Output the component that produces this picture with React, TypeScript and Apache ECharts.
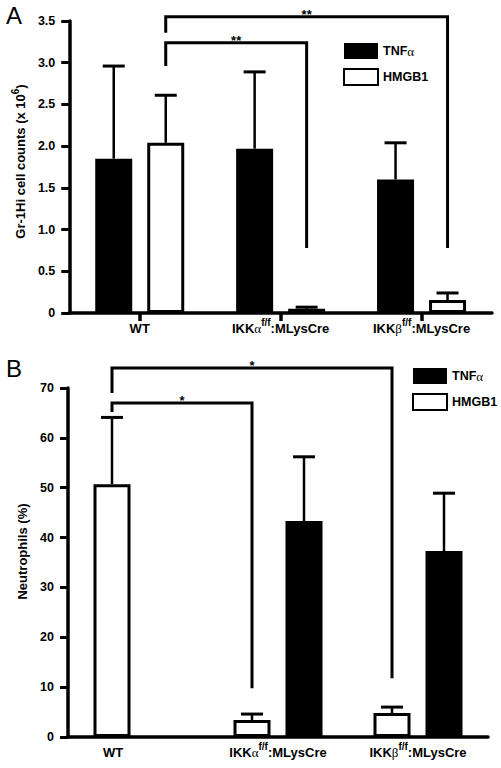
import React, { useEffect, useRef } from 'react';
import * as echarts from 'echarts';

// ---------- data ----------
const categories = ['WT', 'IKKα', 'IKKβ'];
const genotypeSuffix = ':MLysCre';
const superscriptText = 'f/f';
const seriesNames = ['TNFα', 'HMGB1'];

// Panel A: Gr-1Hi cell counts (x 10^6)
const aTnf = [1.85, 1.97, 1.6];
const aTnfErr = [1.11, 0.92, 0.44];
const aHmgb = [2.04, 0.05, 0.155];
const aHmgbErr = [0.57, 0.02, 0.085];
const aTicks = { min: 0, max: 3.5, interval: 0.5 };
// [startCat, startFoot, endCat, endFoot, top]
const aBrackets = [
  [0, 2.96, 1, 0.78, 3.24],
  [0, 3.36, 2, 0.78, 3.55],
];
const aBracketLabels = ['**', '**'];

// Panel B: Neutrophils (%)
const bHmgb = [50.7, 3.4, 4.8];
const bHmgbErr = [13.4, 1.2, 1.2];
const bTnf: (number | null)[] = [null, 43.3, 37.3];
const bTnfErr: (number | null)[] = [null, 12.9, 11.6];
const bTicks = { min: 0, max: 70, interval: 10 };
const bBrackets = [
  [0, 65.2, 1, 9.8, 67.0],
  [0, 69.0, 2, 11.8, 74.0],
];
const bBracketLabels = ['*', '*'];

// ---------- styles ----------
const FONT = '"Liberation Sans", Arial, Helvetica, sans-serif';
const SERIF = '"Liberation Serif", "Times New Roman", serif';
const BAR_W = 37;
const GAP = 15;
const CAP = 22;
const AXIS_W = 3.5;

const slotOffset = (slot: number) => (slot - 0.5) * (BAR_W + GAP);

function errorSeries(values: (number | null)[], errs: (number | null)[], slot: number, axis: number) {
  const data: number[][] = [];
  values.forEach((v, i) => {
    if (v != null && errs[i] != null) data.push([i, v, errs[i] as number]);
  });
  return {
    type: 'custom',
    xAxisIndex: axis,
    yAxisIndex: axis,
    clip: false,
    silent: true,
    z: 5,
    encode: { x: 0, y: 1 },
    data,
    renderItem: (params: any, api: any) => {
      const i = api.value(0);
      const v = api.value(1);
      const e = api.value(2);
      const base = api.coord([i, v]);
      const top = api.coord([i, v + e]);
      const x = base[0] + slotOffset(slot);
      return {
        type: 'group',
        children: [
          { type: 'line', shape: { x1: x, y1: base[1], x2: x, y2: top[1] }, style: { stroke: '#000', lineWidth: 2.5 } },
          { type: 'line', shape: { x1: x - CAP / 2, y1: top[1], x2: x + CAP / 2, y2: top[1] }, style: { stroke: '#000', lineWidth: 3 } },
        ],
      };
    },
  };
}

function bracketSeries(brackets: number[][], labels: string[], slot: number, axis: number) {
  return {
    type: 'custom',
    xAxisIndex: axis,
    yAxisIndex: axis,
    clip: false,
    silent: true,
    z: 6,
    encode: { x: 0, y: 1 },
    data: brackets,
    renderItem: (params: any, api: any) => {
      const c1 = api.value(0), f1 = api.value(1), c2 = api.value(2), f2 = api.value(3), t = api.value(4);
      const p1 = api.coord([c1, f1]);
      const p2 = api.coord([c2, f2]);
      const pt = api.coord([c1, t]);
      const x1 = p1[0] + slotOffset(slot);
      const x2 = p2[0] + slotOffset(slot);
      const yt = pt[1];
      return {
        type: 'group',
        children: [
          {
            type: 'polyline',
            shape: { points: [[x1, p1[1]], [x1, yt], [x2, yt], [x2, p2[1]]] },
            style: { stroke: '#000', lineWidth: 3, fill: null },
          },
          {
            type: 'text',
            x: (x1 + x2) / 2,
            y: yt - 2.5,
            style: {
              text: labels[params.dataIndex],
              fontFamily: FONT,
              fontWeight: 'bold',
              fontSize: 13,
              fill: '#000',
              align: 'center',
              verticalAlign: 'middle',
            },
          },
        ],
      };
    },
  };
}

const catRich = {
  m: { fontFamily: FONT, fontWeight: 'bold', fontSize: 13, color: '#000', lineHeight: 14, padding: [8, 0, 0, 0] },
  w: { fontFamily: FONT, fontWeight: 'bold', fontSize: 13, color: '#000', lineHeight: 14, padding: [8, 50, 0, 0] },
  g: { fontFamily: SERIF, fontWeight: 'normal', fontSize: 13, color: '#000', lineHeight: 14, padding: [8, 0, 0, 0] },
  s: { fontFamily: FONT, fontWeight: 'bold', fontSize: 10, color: '#000', lineHeight: 10, verticalAlign: 'top' },
};

const catFormatter = (shiftWT: boolean) => (v: string) => {
  if (v === 'WT') return shiftWT ? '{w|WT}' : '{m|WT}';
  return `{m|${v.slice(0, 3)}}{g|${v.slice(3)}}{s|${superscriptText}}{m|${genotypeSuffix}}`;
};

function xAxisDef(gridIndex: number, showTick: boolean, shiftWT: boolean) {
  return {
    type: 'category',
    gridIndex,
    data: categories,
    axisLine: { lineStyle: { color: '#000', width: AXIS_W } },
    axisTick: { show: showTick, alignWithLabel: true, length: 8, lineStyle: { color: '#000', width: 3.5 } },
    axisLabel: { interval: 0, margin: 4, formatter: catFormatter(shiftWT), rich: catRich },
    splitLine: { show: false },
  };
}

function yAxisDef(gridIndex: number, ticks: { min: number; max: number; interval: number }, name: string, rich: any, pad: number, decimals: number) {
  return {
    type: 'value',
    gridIndex,
    min: ticks.min,
    max: ticks.max,
    interval: ticks.interval,
    name,
    nameLocation: 'middle',
    nameRotate: 90,
    nameGap: 37,
    nameTextStyle: { padding: [0, 0, 0, pad], rich, fontFamily: FONT, fontWeight: 'bold', fontSize: 13, color: '#000' },
    axisLine: { show: true, lineStyle: { color: '#000', width: AXIS_W } },
    axisTick: { show: true, length: 8, lineStyle: { color: '#000', width: 3 } },
    axisLabel: {
      margin: 14,
      fontFamily: FONT,
      fontWeight: 'bold',
      fontSize: 12.5,
      color: '#000',
      formatter: (v: number) => (v === 0 ? '0' : v.toFixed(decimals)),
    },
    splitLine: { show: false },
  };
}

const nameRichA = {
  a: { fontFamily: FONT, fontWeight: 'bold', fontSize: 13, color: '#000', lineHeight: 14, padding: [6, 0, 0, 0] },
  s: { fontFamily: FONT, fontWeight: 'bold', fontSize: 10, color: '#000', lineHeight: 10, verticalAlign: 'top' },
};

const legendRich = {
  b: { fontFamily: FONT, fontWeight: 'bold', fontSize: 12.5, color: '#000' },
  g: { fontFamily: SERIF, fontWeight: 'normal', fontSize: 13, color: '#000' },
};

function legendDef(left: number, top: number) {
  return {
    left,
    top,
    orient: 'vertical',
    itemWidth: 34,
    itemHeight: 16,
    itemGap: 9,
    padding: 0,
    selectedMode: false,
    icon: 'rect',
    data: seriesNames,
    formatter: (n: string) => (n === 'TNFα' ? '{b|TNF}{g|α}' : `{b|${n}}`),
    textStyle: { rich: legendRich },
  };
}

const blackStyle = { color: '#000', borderColor: '#000', borderWidth: 0 };
const whiteStyle = { color: '#fff', borderColor: '#000', borderWidth: 3 };

export default function App() {
  const ref = useRef<HTMLDivElement>(null);
  useEffect(() => {
    if (!ref.current) return;
    const chart = echarts.init(ref.current, null, { renderer: 'svg' });
    chart.setOption({
      animation: false,
      backgroundColor: '#fff',
      grid: [
        { left: 68, top: 21, right: 9, bottom: 455 },
        { left: 68, top: 388, right: 13, bottom: 31 },
      ],
      xAxis: [xAxisDef(0, true, false), xAxisDef(1, false, true)],
      yAxis: [
        yAxisDef(0, aTicks, '{a|Gr-1Hi cell counts (x 10}{s|6}{a|)}', nameRichA, 11, 1),
        yAxisDef(1, bTicks, 'Neutrophils (%)', undefined, 22, 0),
      ],
      legend: [legendDef(343, 43), legendDef(412, 368)],
      graphic: [
        { type: 'text', left: 6, top: 3, style: { text: 'A', fontFamily: FONT, fontSize: 24, fill: '#000' } },
        { type: 'text', left: 6, top: 356, style: { text: 'B', fontFamily: FONT, fontSize: 24, fill: '#000' } },
      ],
      series: [
        { name: seriesNames[0], type: 'bar', xAxisIndex: 0, yAxisIndex: 0, data: aTnf, barWidth: BAR_W, barGap: `${(GAP / BAR_W) * 100}%`, itemStyle: blackStyle },
        { name: seriesNames[1], type: 'bar', xAxisIndex: 0, yAxisIndex: 0, data: aHmgb, barWidth: BAR_W, barGap: `${(GAP / BAR_W) * 100}%`, itemStyle: whiteStyle },
        { name: seriesNames[1], type: 'bar', xAxisIndex: 1, yAxisIndex: 1, data: bHmgb, barWidth: BAR_W, barGap: `${(GAP / BAR_W) * 100}%`, itemStyle: whiteStyle },
        { name: seriesNames[0], type: 'bar', xAxisIndex: 1, yAxisIndex: 1, data: bTnf.map((v) => (v == null ? '-' : v)), barWidth: BAR_W, barGap: `${(GAP / BAR_W) * 100}%`, itemStyle: blackStyle },
        errorSeries(aTnf, aTnfErr, 0, 0),
        errorSeries(aHmgb, aHmgbErr, 1, 0),
        errorSeries(bHmgb, bHmgbErr, 0, 1),
        errorSeries(bTnf, bTnfErr, 1, 1),
        bracketSeries(aBrackets, aBracketLabels, 1, 0),
        bracketSeries(bBrackets, bBracketLabels, 0, 1),
      ],
    });
    return () => chart.dispose();
  }, []);
  return <div ref={ref} style={{ position: 'absolute', left: 0, top: 0, width: 501, height: 768 }} />;
}
